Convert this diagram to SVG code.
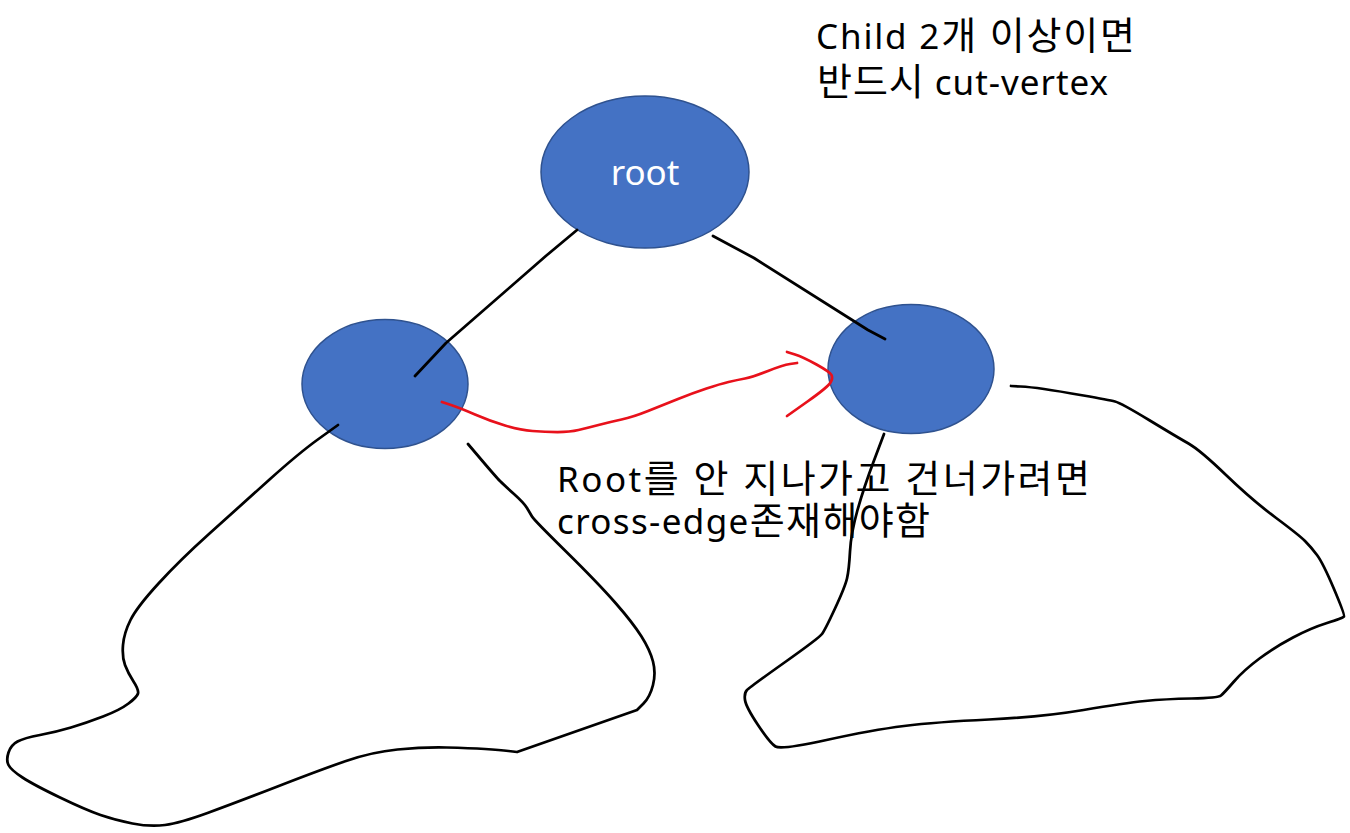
<svg xmlns="http://www.w3.org/2000/svg" width="1350" height="833" viewBox="0 0 1350 833">
<style>
.node{fill:#4472C4;stroke:#2F528F;stroke-width:1.5}
.ink{fill:none;stroke:#000;stroke-width:2.75;stroke-linecap:round;stroke-linejoin:round}
.red{fill:none;stroke:#E8111B;stroke-width:2.75;stroke-linecap:round;stroke-linejoin:round}
.lbl{font-family:"Noto Sans","Noto Sans CJK KR",sans-serif;font-size:35px;fill:#000}
.k{font-size:38px}
.nlbl{font-family:"Noto Sans","Noto Sans CJK KR",sans-serif;font-size:35px;fill:#fff}
</style>
<rect width="1350" height="833" fill="#fff"/>
<g id="root">
<ellipse class="node" cx="645" cy="172" rx="104" ry="76"/>
<text class="nlbl" x="645" y="185" text-anchor="middle">root</text>
</g>
<g id="left-child">
<ellipse class="node" cx="385" cy="384" rx="83" ry="64.5"/>
</g>
<g id="right-child">
<ellipse class="node" cx="911" cy="369" rx="83" ry="64.5"/>
</g>
<g id="connectors">
<path class="ink" d="M577,230 L547,255 L446,343 L415,376"/>
<path class="ink" d="M713,236 L754,258 L868,330 L885,339"/>
<path class="ink" d="M338,425 L318.5,439 Q299,453 269,480 Q239,507 209.5,533.5 Q180,560 158.5,583.5 Q137,607 130.5,620 Q124,633 123,645 Q122,657 125,665 Q128,673 133.5,681.5 Q139,690 138,693.5 Q137,697 128.5,703.5 Q120,710 103,716.5 Q86,723 71,727.5 Q56,732 40,735 Q24,738 17.5,741.5 Q11,745 8.5,752.5 Q6,760 8.5,765 Q11,770 22.5,777.5 Q34,785 60,797.5 Q86,810 100.5,815 Q115,820 132.5,823.5 Q150,827 165,825 Q180,823 207.5,813 Q235,803 277.5,786.5 Q320,770 346,761 Q372,752 397.5,749.5 Q423,747 446.5,747.5 Q470,748 485,749 Q500,750 508.5,751 L517,752 L637,710 L643.5,703.5 Q650,697 653,685 Q656,673 653,661.5 Q650,650 641.5,636.5 Q633,623 615.5,603 Q598,583 566,551.5 Q534,520 532,516.5 Q530,513 527,508 Q524,503 514,494 Q504,485 500,481 Q496,477 482,460.5 L468,444"/>
<path class="ink" d="M884,434 L874,460.5 Q864,487 857.5,510 Q851,533 850,551.5 Q849,570 847,578.5 Q845,587 835,608.5 Q825,630 822,634 Q819,638 784.5,662.5 Q750,687 747,690 Q744,693 745,700 Q746,707 758,725 Q770,743 775.5,746.5 Q781,750 826.5,740 Q872,730 904,726 Q936,722 989,719.5 Q1042,717 1083.5,710 Q1125,703 1145,701 Q1165,699 1191.5,698.5 Q1218,698 1221,695.5 Q1224,693 1234,681.5 Q1244,670 1259.5,658.5 Q1275,647 1293,637.5 Q1311,628 1327,623 Q1343,618 1344,616.5 Q1345,615 1334,589 Q1323,563 1317,555 Q1311,547 1305,541 Q1299,535 1275.5,517.5 Q1252,500 1226,475 Q1200,450 1188.5,443.5 Q1177,437 1149,420 Q1121,403 1115,401.5 Q1109,400 1083.5,395.5 Q1058,391 1044,389 Q1030,387 1020.5,386.5 L1011,386"/>
<path class="red" d="M442,402 L451,405 Q460,408 475,414.5 Q490,421 505,425.5 Q520,430 532.5,431 Q545,432 557.5,432 Q570,432 578.5,430 Q587,428 598.5,425 Q610,422 621.5,419.5 Q633,417 648,411 Q663,405 678,399 Q693,393 706.5,388.5 Q720,384 728.5,382 Q737,380 745,378.5 Q753,377 768,371 Q783,365 790,364 L797,363"/>
<path class="red" d="M787,352 L795,354.5 Q803,357 816.5,364.5 Q830,372 831.5,375 Q833,378 830.5,382.5 Q828,387 807.5,401.5 L787,416"/>
</g>
<g id="labels">
<text class="lbl"><tspan x="816" y="49" textLength="319" lengthAdjust="spacing">Child 2<tspan class="k">개 이상이면</tspan></tspan><tspan x="817" y="95" textLength="291" lengthAdjust="spacing"><tspan class="k">반드시</tspan> cut-vertex</tspan></text>
<text class="lbl"><tspan x="557" y="492" textLength="533" lengthAdjust="spacing">Root<tspan class="k">를 안 지나가고 건너가려면</tspan></tspan><tspan x="557" y="534" textLength="373" lengthAdjust="spacing">cross-edge<tspan class="k">존재해야함</tspan></tspan></text>
</g>
</svg>
